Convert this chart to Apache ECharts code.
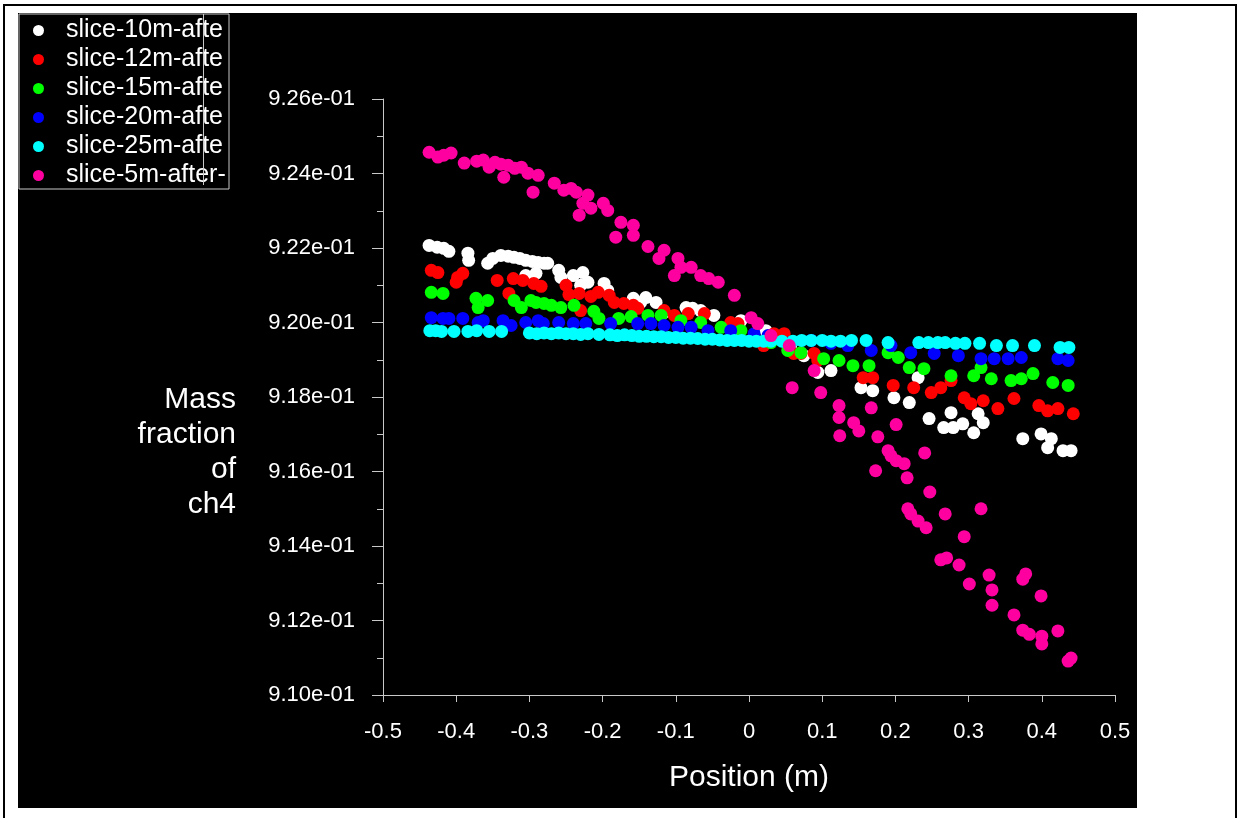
<!DOCTYPE html>
<html>
<head>
<meta charset="utf-8">
<script src="https://cdn.jsdelivr.net/npm/echarts@6/dist/echarts.min.js"></script>
<style>
  html, body { margin: 0; padding: 0; background: #fff; }
  #chart { width: 1237px; height: 818px; }
</style>
</head>
<body>
<div id="chart"></div>
<script>
// mass fraction of ch4 against position, one list per slice
const names = ["slice-10m-after-", "slice-12m-after-", "slice-15m-after-", "slice-20m-after-", "slice-25m-after-", "slice-5m-after-"];
const colors = ["#ffffff", "#ff0000", "#00ff00", "#0000ff", "#00ffff", "#ff00a0"];

const s10 = [
  [-0.437, 0.92207], [-0.426, 0.92202], [-0.417, 0.92199], [-0.410, 0.92191], [-0.384, 0.92186],
  [-0.383, 0.92167], [-0.357, 0.92159], [-0.350, 0.92172], [-0.339, 0.92180], [-0.329, 0.92178],
  [-0.321, 0.92175], [-0.313, 0.92172], [-0.305, 0.92167], [-0.296, 0.92164], [-0.288, 0.92161],
  [-0.280, 0.92159], [-0.275, 0.92159], [-0.305, 0.92126], [-0.291, 0.92132], [-0.260, 0.92140],
  [-0.257, 0.92121], [-0.240, 0.92126], [-0.227, 0.92134], [-0.230, 0.92100], [-0.220, 0.92108],
  [-0.198, 0.92105], [-0.193, 0.92086], [-0.158, 0.92065], [-0.148, 0.92054], [-0.141, 0.92067],
  [-0.127, 0.92054], [-0.116, 0.92027], [-0.086, 0.92040], [-0.077, 0.92038], [-0.066, 0.92032],
  [-0.048, 0.92019], [-0.011, 0.92005], [0.023, 0.91978], [0.057, 0.91938], [0.075, 0.91911],
  [0.094, 0.91866], [0.112, 0.91871], [0.153, 0.91825], [0.169, 0.91817], [0.198, 0.91798],
  [0.219, 0.91785], [0.231, 0.91852], [0.246, 0.91742], [0.266, 0.91718], [0.276, 0.91758],
  [0.279, 0.91718], [0.292, 0.91728], [0.307, 0.91704], [0.313, 0.91755], [0.320, 0.91731],
  [0.374, 0.91688], [0.399, 0.91701], [0.413, 0.91688], [0.408, 0.91664], [0.429, 0.91656],
  [0.440, 0.91656]
];

const s12 = [
  [-0.434, 0.92140], [-0.425, 0.92134], [-0.398, 0.92121], [-0.391, 0.92132], [-0.400, 0.92108],
  [-0.344, 0.92113], [-0.322, 0.92118], [-0.328, 0.92078], [-0.309, 0.92113], [-0.294, 0.92105],
  [-0.284, 0.92097], [-0.250, 0.92100], [-0.246, 0.92075], [-0.232, 0.92078], [-0.230, 0.92032],
  [-0.216, 0.92070], [-0.206, 0.92081], [-0.191, 0.92073], [-0.184, 0.92054], [-0.171, 0.92051],
  [-0.158, 0.92046], [-0.152, 0.92038], [-0.116, 0.92032], [-0.102, 0.92019], [-0.083, 0.92024],
  [-0.061, 0.92024], [-0.025, 0.92000], [-0.015, 0.91997], [0.020, 0.91938], [0.034, 0.91970],
  [0.048, 0.91970], [0.061, 0.91917], [0.071, 0.91917], [0.089, 0.91917], [0.094, 0.91898],
  [0.156, 0.91852], [0.169, 0.91852], [0.197, 0.91831], [0.225, 0.91825], [0.249, 0.91812],
  [0.262, 0.91825], [0.276, 0.91844], [0.294, 0.91798], [0.303, 0.91782], [0.320, 0.91790],
  [0.340, 0.91769], [0.362, 0.91796], [0.396, 0.91777], [0.408, 0.91763], [0.422, 0.91769],
  [0.443, 0.91755]
];

const s15 = [
  [-0.434, 0.92081], [-0.418, 0.92078], [-0.373, 0.92065], [-0.357, 0.92059], [-0.370, 0.92040],
  [-0.321, 0.92059], [-0.311, 0.92040], [-0.298, 0.92059], [-0.291, 0.92054], [-0.280, 0.92051],
  [-0.270, 0.92046], [-0.257, 0.92040], [-0.239, 0.92046], [-0.212, 0.92030], [-0.205, 0.92011],
  [-0.178, 0.92011], [-0.161, 0.92016], [-0.138, 0.92019], [-0.120, 0.92019], [-0.093, 0.92005],
  [-0.066, 0.92000], [-0.038, 0.91987], [-0.011, 0.91978], [0.007, 0.91960], [0.030, 0.91946],
  [0.053, 0.91925], [0.071, 0.91919], [0.102, 0.91903], [0.123, 0.91898], [0.142, 0.91884],
  [0.164, 0.91884], [0.190, 0.91919], [0.204, 0.91906], [0.219, 0.91879], [0.239, 0.91876],
  [0.276, 0.91857], [0.307, 0.91857], [0.317, 0.91879], [0.331, 0.91849], [0.358, 0.91844],
  [0.372, 0.91849], [0.388, 0.91863], [0.415, 0.91839], [0.436, 0.91831]
];

const s20 = [
  [-0.434, 0.92013], [-0.418, 0.92011], [-0.410, 0.92011], [-0.391, 0.92011], [-0.370, 0.92000],
  [-0.363, 0.92005], [-0.336, 0.92005], [-0.325, 0.91992], [-0.305, 0.92000], [-0.288, 0.92005],
  [-0.281, 0.91997], [-0.260, 0.92000], [-0.240, 0.91997], [-0.223, 0.91997], [-0.189, 0.91997],
  [-0.152, 0.91997], [-0.134, 0.91997], [-0.116, 0.91992], [-0.097, 0.91987], [-0.079, 0.91987],
  [-0.056, 0.91978], [-0.025, 0.91978], [0.007, 0.91970], [0.026, 0.91965], [0.057, 0.91946],
  [0.085, 0.91952], [0.112, 0.91944], [0.135, 0.91938], [0.167, 0.91925], [0.194, 0.91938],
  [0.221, 0.91919], [0.253, 0.91917], [0.286, 0.91911], [0.317, 0.91903], [0.335, 0.91903],
  [0.354, 0.91903], [0.372, 0.91906], [0.422, 0.91903], [0.436, 0.91898]
];

const s25 = [
  [-0.436, 0.91978], [-0.428, 0.91978], [-0.420, 0.91976], [-0.403, 0.91976], [-0.384, 0.91976],
  [-0.372, 0.91978], [-0.355, 0.91976], [-0.338, 0.91976], [-0.300, 0.91972], [-0.290, 0.91970],
  [-0.280, 0.91972], [-0.270, 0.91970], [-0.260, 0.91972], [-0.250, 0.91970], [-0.240, 0.91970],
  [-0.230, 0.91968], [-0.220, 0.91970], [-0.205, 0.91968], [-0.190, 0.91967], [-0.180, 0.91965],
  [-0.170, 0.91967], [-0.160, 0.91965], [-0.150, 0.91963], [-0.140, 0.91963], [-0.130, 0.91962],
  [-0.120, 0.91962], [-0.110, 0.91960], [-0.100, 0.91960], [-0.090, 0.91958], [-0.080, 0.91958],
  [-0.070, 0.91957], [-0.060, 0.91955], [-0.050, 0.91955], [-0.040, 0.91953], [-0.030, 0.91952],
  [-0.020, 0.91952], [-0.010, 0.91952], [0.000, 0.91950], [0.010, 0.91950], [0.020, 0.91950],
  [0.030, 0.91950], [0.045, 0.91950], [0.060, 0.91950], [0.072, 0.91952], [0.085, 0.91952],
  [0.100, 0.91952], [0.112, 0.91950], [0.125, 0.91950], [0.140, 0.91952], [0.160, 0.91952],
  [0.190, 0.91946], [0.232, 0.91946], [0.245, 0.91946], [0.258, 0.91946], [0.268, 0.91946],
  [0.282, 0.91944], [0.295, 0.91944], [0.315, 0.91944], [0.338, 0.91938], [0.360, 0.91938],
  [0.390, 0.91938], [0.425, 0.91933], [0.437, 0.91933]
];

const s5 = [
  [-0.437, 0.92457], [-0.425, 0.92444], [-0.417, 0.92449], [-0.407, 0.92455], [-0.389, 0.92428],
  [-0.372, 0.92433], [-0.363, 0.92436], [-0.355, 0.92417], [-0.347, 0.92430], [-0.339, 0.92425],
  [-0.335, 0.92390], [-0.329, 0.92422], [-0.320, 0.92414], [-0.311, 0.92417], [-0.302, 0.92401],
  [-0.295, 0.92350], [-0.288, 0.92395], [-0.266, 0.92374], [-0.253, 0.92355], [-0.243, 0.92360],
  [-0.236, 0.92350], [-0.227, 0.92320], [-0.232, 0.92288], [-0.220, 0.92342], [-0.216, 0.92307],
  [-0.199, 0.92320], [-0.193, 0.92301], [-0.175, 0.92269], [-0.158, 0.92261], [-0.182, 0.92229],
  [-0.158, 0.92234], [-0.138, 0.92204], [-0.116, 0.92194], [-0.123, 0.92172], [-0.097, 0.92172],
  [-0.093, 0.92148], [-0.079, 0.92148], [-0.102, 0.92126], [-0.066, 0.92126], [-0.055, 0.92118],
  [-0.042, 0.92108], [-0.020, 0.92073], [0.003, 0.92013], [0.012, 0.91997], [0.030, 0.91965],
  [0.055, 0.91938], [0.089, 0.91871], [0.059, 0.91825], [0.098, 0.91812], [0.123, 0.91777],
  [0.123, 0.91745], [0.143, 0.91731], [0.150, 0.91709], [0.124, 0.91696], [0.167, 0.91771],
  [0.176, 0.91693], [0.201, 0.91726], [0.190, 0.91656], [0.194, 0.91642], [0.201, 0.91629],
  [0.212, 0.91621], [0.240, 0.91650], [0.173, 0.91602], [0.216, 0.91583], [0.247, 0.91545],
  [0.217, 0.91500], [0.221, 0.91486], [0.231, 0.91467], [0.242, 0.91449], [0.268, 0.91486],
  [0.317, 0.91500], [0.294, 0.91425], [0.262, 0.91363], [0.270, 0.91368], [0.287, 0.91349],
  [0.301, 0.91298], [0.328, 0.91322], [0.332, 0.91282], [0.332, 0.91241], [0.362, 0.91215],
  [0.378, 0.91325], [0.374, 0.91311], [0.399, 0.91266], [0.374, 0.91174], [0.383, 0.91163],
  [0.400, 0.91158], [0.400, 0.91137], [0.422, 0.91172], [0.436, 0.91091], [0.440, 0.91099]
];

const allData = [s10, s12, s15, s20, s25, s5];

const chart = echarts.init(document.getElementById("chart"));
const axisColor = "#c8c8c8";
const font = "Liberation Sans, Arial, sans-serif";

const option = {
  animation: false,
  textStyle: { fontFamily: font },
  graphic: [
    { type: "rect", z: -10, silent: true, shape: { x: 18, y: 13, width: 1119, height: 795 }, style: { fill: "#000" } },
    { type: "line", silent: true, shape: { x1: 3, y1: 5, x2: 1237, y2: 5 }, style: { stroke: "#000", lineWidth: 2 } },
    { type: "line", silent: true, shape: { x1: 4, y1: 5, x2: 4, y2: 818 }, style: { stroke: "#000", lineWidth: 2 } },
    { type: "line", silent: true, shape: { x1: 1236, y1: 5, x2: 1236, y2: 818 }, style: { stroke: "#000", lineWidth: 2 } },
    { type: "line", silent: true, z: 100, shape: { x1: 203.5, y1: 14, x2: 203.5, y2: 185 }, style: { stroke: axisColor, lineWidth: 1 } },
    {
      type: "text", silent: true, x: 236, y: 382,
      style: {
        text: "Mass\nfraction\nof\nch4",
        fill: "#fff",
        font: "30px Liberation Sans, Arial, sans-serif",
        lineHeight: 35,
        align: "right",
        verticalAlign: "top"
      }
    }
  ],
  legend: {
    orient: "vertical",
    left: 19,
    top: 14,
    padding: [4, 2, 1, 14],
    itemGap: 4,
    itemWidth: 11,
    itemHeight: 11,
    icon: "circle",
    borderColor: axisColor,
    borderWidth: 1,
    data: names,
    textStyle: {
      color: "#fff",
      fontSize: 25,
      lineHeight: 24,
      fontFamily: font,
      padding: [0, 0, 0, 17],
      width: 161,
      overflow: "truncate",
      ellipsis: ""
    }
  },
  grid: { left: 383, right: 122, top: 99, bottom: 123 },
  xAxis: {
    type: "value",
    min: -0.5,
    max: 0.5,
    interval: 0.1,
    name: "Position (m)",
    nameLocation: "middle",
    nameGap: 68,
    nameTextStyle: { color: "#fff", fontSize: 30, fontFamily: font },
    axisLine: { onZero: false, lineStyle: { color: axisColor } },
    axisTick: { length: 7, lineStyle: { color: axisColor } },
    splitLine: { show: false },
    axisLabel: {
      color: "#fff",
      fontSize: 22,
      margin: 26,
      formatter: function (v) { return String(Math.round(v * 10) / 10); }
    }
  },
  yAxis: {
    type: "value",
    min: 0.91,
    max: 0.926,
    interval: 0.002,
    axisLine: { show: true, onZero: false, lineStyle: { color: axisColor } },
    axisTick: { length: 11, lineStyle: { color: axisColor } },
    minorTick: { show: true, splitNumber: 2, length: 6, lineStyle: { color: axisColor } },
    splitLine: { show: false },
    axisLabel: {
      color: "#fff",
      fontSize: 22,
      margin: 28,
      formatter: function (v) { return (v * 10).toFixed(2) + "e-01"; }
    }
  },
  series: allData.map(function (d, i) {
    return {
      name: names[i],
      type: "scatter",
      data: d,
      symbol: "circle",
      symbolSize: 13,
      itemStyle: { color: colors[i], opacity: 1 }
    };
  })
};

chart.setOption(option);
window.addEventListener("resize", () => chart.resize());
</script>
</body>
</html>
